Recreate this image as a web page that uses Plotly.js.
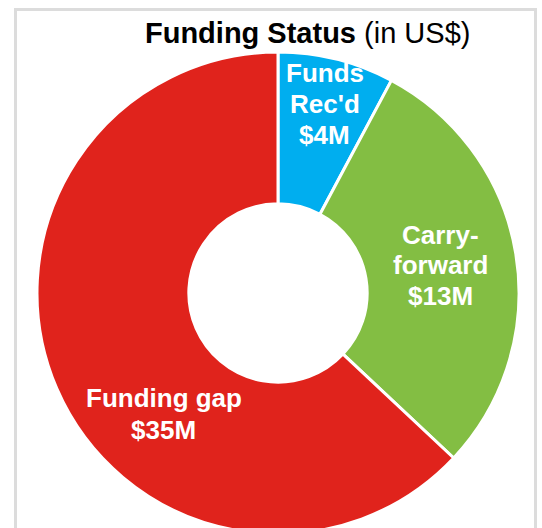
<!DOCTYPE html>
<html>
<head>
<meta charset="utf-8">
<script src="https://cdn.plot.ly/plotly-3.0.1.min.js"></script>
<style>
  html, body { margin: 0; padding: 0; background: #ffffff; overflow: hidden; }
  #chart { width: 542px; height: 534px; }
</style>
</head>
<body>
<div id="chart"></div>
<script>
// Slice names and printed amounts
const categories = ["Funds Rec'd", "Carry-forward", "Funding gap"];
const sliceLabelLines = [["Funds", "Rec'd", "$4M"], ["Carry-", "forward", "$13M"], ["Funding gap", "$35M"]];
// Slice shares as drawn in the picture (percent of the ring)
const sliceShare = [7.8, 29.2, 63.0];
const sliceColors = ["#00AEEF", "#83BE43", "#E0231C"];

const FONT = "'Liberation Sans', Arial, sans-serif";
const W = 542, H = 534, ML = 37, MR = 23, MT = 52, MB = 0;
const PW = W - ML - MR, PH = H - MT - MB;
const px2x = px => (px - ML) / PW;
const py2y = py => 1 - (py - MT) / PH;

const trace = {
  type: "pie",
  labels: categories,
  values: sliceShare,
  sort: false,
  direction: "clockwise",
  rotation: 0,
  hole: 0.37,
  textinfo: "none",
  hoverinfo: "label+value",
  marker: { colors: sliceColors, line: { color: "#ffffff", width: 3 } },
  showlegend: false
};

// label block placement (pixel centre x, first line centre y, line step)
const labelPlace = [
  { cx: 324.5, cy: 73.5, step: 30.5 },
  { cx: 440.7, cy: 234.5, step: 30.8 },
  { cx: 163.6, cy: 398.0, step: 31.5 }
];

const annotations = [];
sliceLabelLines.forEach((lines, i) => {
  lines.forEach((line, j) => {
    annotations.push({
      xref: "paper", yref: "paper",
      x: px2x(labelPlace[i].cx), y: py2y(labelPlace[i].cy + j * labelPlace[i].step),
      xanchor: "center", yanchor: "middle",
      text: "<b>" + line + "</b>",
      showarrow: false,
      font: { family: FONT, size: 26, color: "#ffffff" }
    });
  });
});

const layout = {
  width: W, height: H,
  margin: { l: ML, r: MR, t: MT, b: MB, pad: 0 },
  paper_bgcolor: "#ffffff",
  title: {
    text: "<b>Funding Status</b> (in US$)",
    font: { family: FONT, size: 29, color: "#000000" },
    xref: "paper", x: px2x(307.7), xanchor: "center",
    yref: "container", y: 1 - 33 / H, yanchor: "middle"
  },
  annotations: annotations,
  shapes: [{
    type: "rect", xref: "paper", yref: "paper",
    x0: px2x(15.5), x1: px2x(535.5), y0: py2y(560), y1: py2y(9.5),
    line: { color: "#dcdcdc", width: 3 },
    fillcolor: "rgba(0,0,0,0)", layer: "below"
  }]
};

Plotly.newPlot("chart", [trace], layout, { displayModeBar: false, staticPlot: true });
</script>
</body>
</html>
